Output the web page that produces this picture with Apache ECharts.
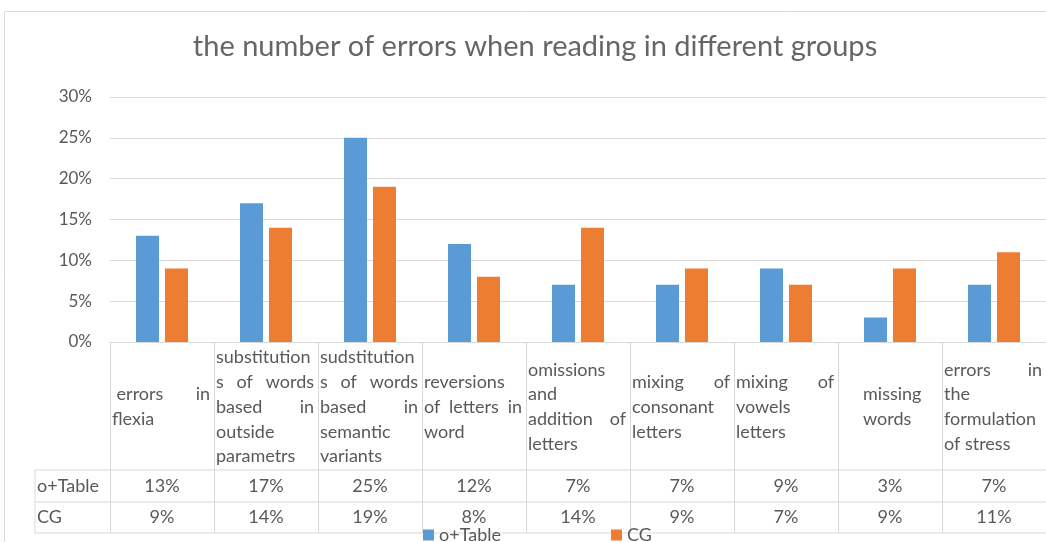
<!DOCTYPE html>
<html>
<head>
<meta charset="utf-8">
<script src="https://cdn.jsdelivr.net/npm/echarts@6/dist/echarts.min.js"></script>
<style>
  html, body { margin: 0; padding: 0; background: #fff; }
  #chart { width: 1046px; height: 542px; }
</style>
</head>
<body>
<div id="chart"></div>
<script>
// 数据
const categories = [
  ' errors in\nflexia',
  'substitution\ns of words\nbased in\noutside\nparametrs',
  'sudstitution\ns of words\nbased in\nsemantic\nvariants',
  'reversions\nof letters in\nword',
  'omissions\nand\naddition of\nletters',
  'mixing of\nconsonant\nletters',
  'mixing of\nvowels\nletters',
  '     missing\n     words',
  'errors in\nthe\nformulation\nof stress'
]
const seriesNames = ['o+Table', 'CG']
const tableValues = [13, 17, 25, 12, 7, 7, 9, 3, 7]
const cgValues = [9, 14, 19, 8, 14, 9, 7, 9, 11]
const yTicks = [0, 5, 10, 15, 20, 25, 30]

const FONT = 'Lato'
const GRAY = '#595959'
const LINE = '#d9d9d9'
const FS = 18

const chart = echarts.init(document.getElementById('chart'))

const option = {
  animation: false,
  backgroundColor: '#fff',
  title: {
    text: 'the number of errors when reading in different groups',
    left: 530,
    textAlign: 'center',
    top: 27,
    textStyle: { fontFamily: FONT, fontSize: 29, fontWeight: 'normal', color: '#666' }
  },
  legend: {
    data: seriesNames,
    left: 418,
    top: 521,
    icon: 'rect',
    itemWidth: 11,
    itemHeight: 11,
    itemGap: 110,
    textStyle: { fontFamily: FONT, fontSize: FS, color: GRAY }
  },
  grid: { left: 110, top: 97, width: 940, height: 245 },
  xAxis: {
    type: 'category',
    data: categories,
    axisLabel: { show: false },
    axisTick: { show: false },
    axisLine: { lineStyle: { color: LINE } }
  },
  yAxis: {
    type: 'value',
    min: yTicks[0],
    max: yTicks[yTicks.length - 1],
    interval: 5,
    axisLabel: { formatter: '{value}%', margin: 18, fontFamily: FONT, fontSize: 17, color: GRAY },
    splitLine: { lineStyle: { color: LINE } },
    axisLine: { show: false },
    axisTick: { show: false }
  },
  series: [
    { name: seriesNames[0], type: 'bar', data: tableValues, barWidth: 23, barGap: '26%', itemStyle: { color: '#5B9BD5' } },
    { name: seriesNames[1], type: 'bar', data: cgValues, barWidth: 23, itemStyle: { color: '#ED7D31' } }
  ]
}

chart.setOption(option)

// 数据表
const ctx = document.createElement('canvas').getContext('2d')
ctx.font = FS + 'px ' + FONT
const measure = s => ctx.measureText(s).width

const buildTable = () => {
  const els = []
  const textStyle = { fontFamily: FONT, fontSize: FS, fill: GRAY }
  const c0 = chart.convertToPixel({ gridIndex: 0 }, [0, 0])
  const c1 = chart.convertToPixel({ gridIndex: 0 }, [1, 0])
  const half = (c1[0] - c0[0]) / 2
  const yTop = c0[1]
  const row1 = yTop + 128
  const row2 = row1 + 32
  const row3 = row2 + 31
  const tableLeft = 35

  const line = (x1, y1, x2, y2) => els.push({
    type: 'line', silent: true,
    shape: { x1, y1, x2, y2 },
    style: { stroke: LINE, lineWidth: 1 }
  })

  // 外框
  els.push({ type: 'rect', shape: { x: 4.5, y: 11.5, width: 1200, height: 600 }, style: { fill: null, stroke: LINE, lineWidth: 1 }, silent: true, z: -10 })

  line(tableLeft, row1, 1100, row1)
  line(tableLeft, row2, 1100, row2)
  line(tableLeft, row3, 1100, row3)
  line(tableLeft, row1, tableLeft, row3)

  els.push({ type: 'text', style: Object.assign({ text: seriesNames[0], x: tableLeft + 2, y: (row1 + row2) / 2, verticalAlign: 'middle' }, textStyle) })
  els.push({ type: 'text', style: Object.assign({ text: seriesNames[1], x: tableLeft + 2, y: (row2 + row3) / 2, verticalAlign: 'middle' }, textStyle) })

  categories.forEach((cat, i) => {
    const cx = chart.convertToPixel({ gridIndex: 0 }, [i, 0])[0]
    const left = cx - half
    const right = cx + half
    line(Math.round(left) + 0.5, yTop, Math.round(left) + 0.5, row3)
    if (i === categories.length - 1) line(Math.round(right) + 0.5, yTop, Math.round(right) + 0.5, row3)

    // 类别文字（两端对齐）
    const lines = cat.split('\n')
    const lh = 24.7
    const midY = (yTop + row1) / 2 + 1
    const tl = left + 2
    const tr = right - 4
    lines.forEach((ln, k) => {
      const y = midY + (k - (lines.length - 1) / 2) * lh
      const lead = ln.match(/^ */)[0]
      const words = ln.trim().split(/ +/)
      const start = tl + measure(lead)
      if (k === lines.length - 1 || words.length < 2) {
        els.push({ type: 'text', style: Object.assign({ text: ln.trim(), x: start, y, verticalAlign: 'middle' }, textStyle) })
      } else {
        const total = words.reduce((s, w) => s + measure(w), 0)
        const gap = Math.max(measure(' '), (tr - start - total) / (words.length - 1))
        let x = start
        words.forEach(w => {
          els.push({ type: 'text', style: Object.assign({ text: w, x, y, verticalAlign: 'middle' }, textStyle) })
          x += measure(w) + gap
        })
      }
    })

    els.push({ type: 'text', style: Object.assign({ text: tableValues[i] + '%', x: cx, y: (row1 + row2) / 2, align: 'center', verticalAlign: 'middle' }, textStyle) })
    els.push({ type: 'text', style: Object.assign({ text: cgValues[i] + '%', x: cx, y: (row2 + row3) / 2, align: 'center', verticalAlign: 'middle' }, textStyle) })
  })

  chart.setOption({ graphic: { elements: els } })
}

buildTable()
</script>
</body>
</html>
